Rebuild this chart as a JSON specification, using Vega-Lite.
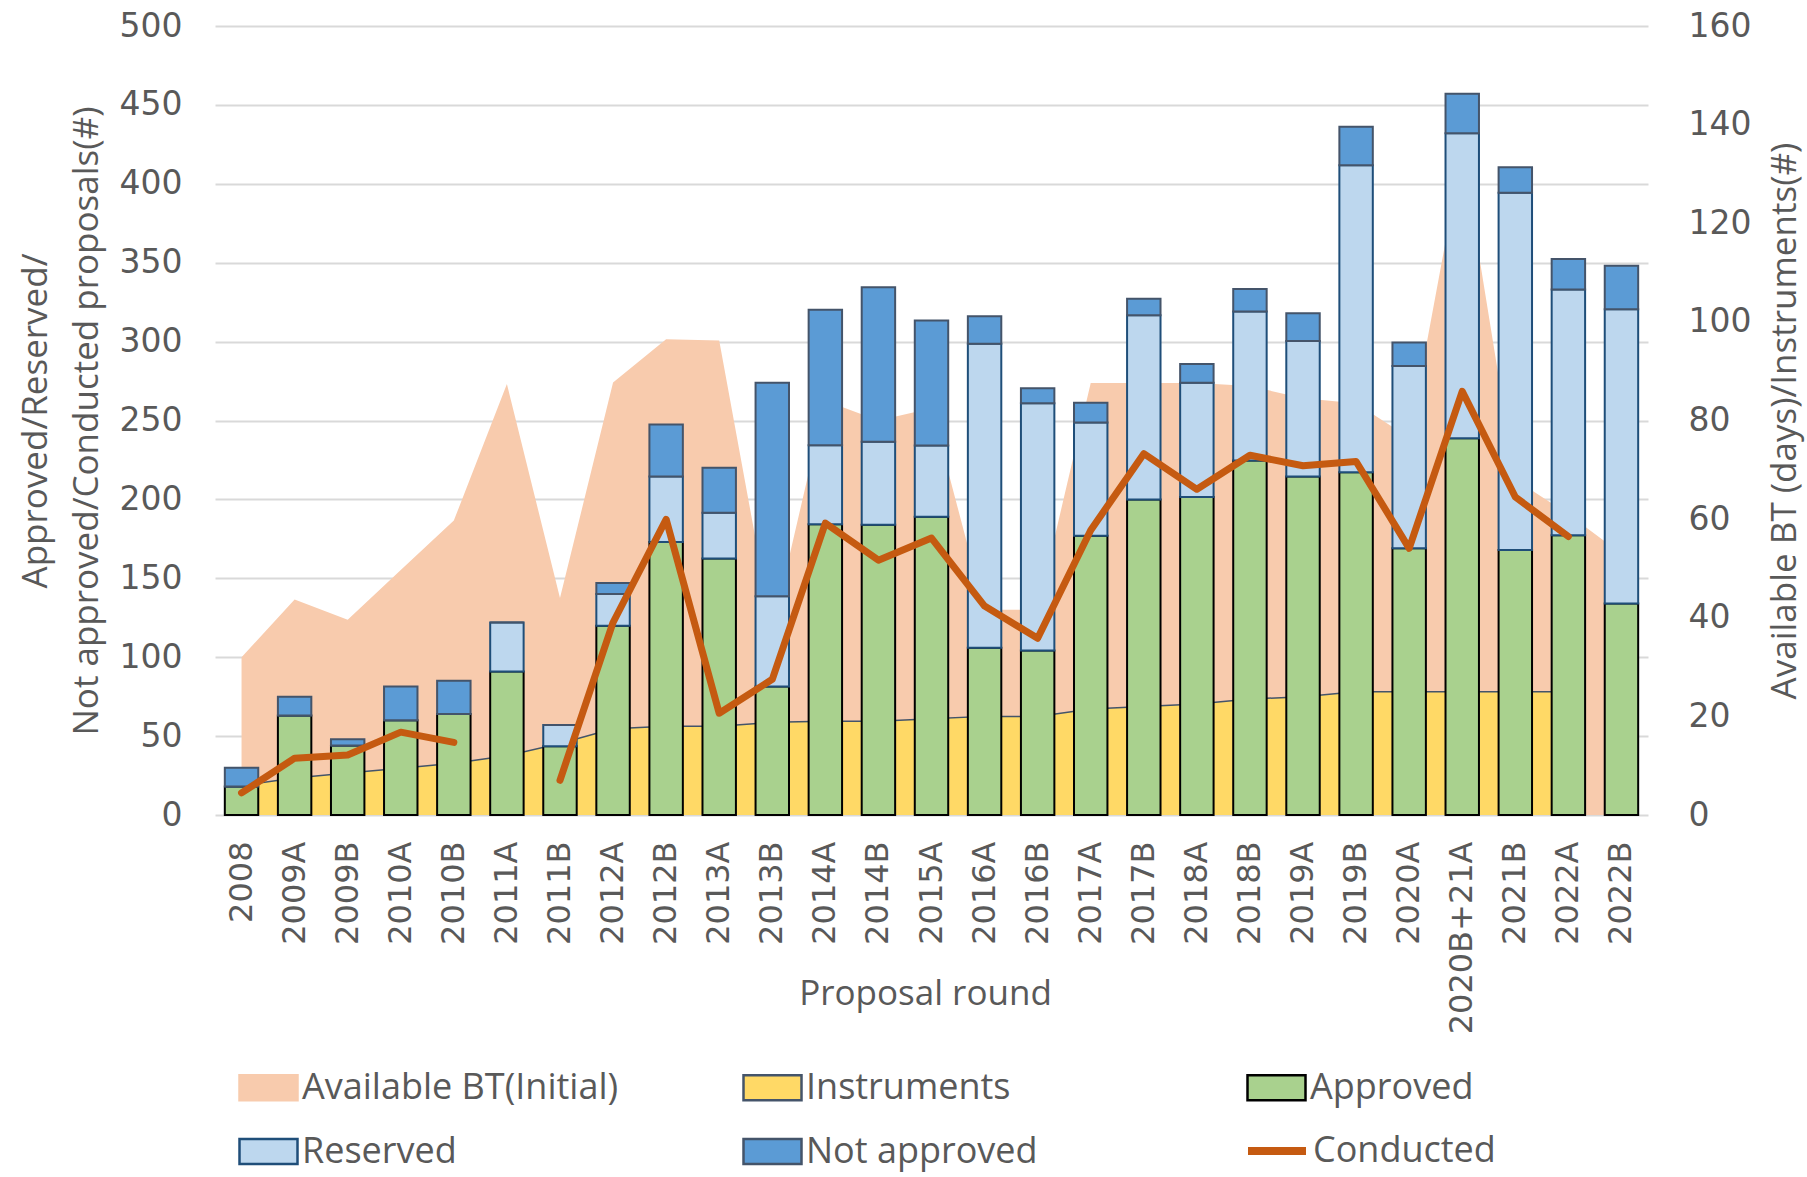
{
  "$schema": "https://vega.github.io/schema/vega-lite/v6.json",
  "width": 1433,
  "height": 789,
  "autosize": {"type": "none"},
  "padding": {"left": 215, "top": 26, "right": 159, "bottom": 362},
  "background": "white",
  "config": {"view": {"stroke": null}, "font": "Open Sans"},
  "data": {"values": [
    {"round": "2008", "approved": 18, "reservedTop": 18, "total": 30, "conducted": 14, "bt": 32, "instruments": 6},
    {"round": "2009A", "approved": 63, "reservedTop": 63, "total": 75, "conducted": 36, "bt": 43.7, "instruments": 7.5},
    {"round": "2009B", "approved": 44, "reservedTop": 44, "total": 48, "conducted": 38, "bt": 39.6, "instruments": 8.5},
    {"round": "2010A", "approved": 60, "reservedTop": 60, "total": 81.5, "conducted": 52.5, "bt": 49.7, "instruments": 9.5},
    {"round": "2010B", "approved": 64, "reservedTop": 64, "total": 85, "conducted": 46, "bt": 59.7, "instruments": 10.5},
    {"round": "2011A", "approved": 91, "reservedTop": 122, "total": 122, "conducted": null, "bt": 87.4, "instruments": 12},
    {"round": "2011B", "approved": 43.5, "reservedTop": 57, "total": 57, "conducted": 22, "bt": 44, "instruments": 14.5},
    {"round": "2012A", "approved": 120, "reservedTop": 140, "total": 147, "conducted": 122, "bt": 87.7, "instruments": 17.5},
    {"round": "2012B", "approved": 173, "reservedTop": 214.5, "total": 247.5, "conducted": 187.4, "bt": 96.5, "instruments": 18},
    {"round": "2013A", "approved": 162.5, "reservedTop": 191.5, "total": 220, "conducted": 64.5, "bt": 96.2, "instruments": 18},
    {"round": "2013B", "approved": 81.5, "reservedTop": 138.7, "total": 274, "conducted": 86, "bt": 37.5, "instruments": 18.8},
    {"round": "2014A", "approved": 184.3, "reservedTop": 234.3, "total": 320.2, "conducted": 185, "bt": 84, "instruments": 19},
    {"round": "2014B", "approved": 184, "reservedTop": 236.6, "total": 334.5, "conducted": 161.5, "bt": 80, "instruments": 19},
    {"round": "2015A", "approved": 189, "reservedTop": 234.2, "total": 313.3, "conducted": 175.5, "bt": 82.5, "instruments": 19.5},
    {"round": "2016A", "approved": 106, "reservedTop": 298.7, "total": 316, "conducted": 132.4, "bt": 41.6, "instruments": 20},
    {"round": "2016B", "approved": 104.2, "reservedTop": 261, "total": 270.4, "conducted": 112, "bt": 41.6, "instruments": 20},
    {"round": "2017A", "approved": 177, "reservedTop": 248.8, "total": 261.3, "conducted": 180.5, "bt": 87.6, "instruments": 21.5},
    {"round": "2017B", "approved": 200, "reservedTop": 316.7, "total": 327.2, "conducted": 229, "bt": 87.6, "instruments": 22},
    {"round": "2018A", "approved": 201.6, "reservedTop": 274, "total": 285.8, "conducted": 206.4, "bt": 87.6, "instruments": 22.5},
    {"round": "2018B", "approved": 224.7, "reservedTop": 319, "total": 333.3, "conducted": 228, "bt": 87, "instruments": 23.5},
    {"round": "2019A", "approved": 214.5, "reservedTop": 300.4, "total": 318, "conducted": 221.3, "bt": 84.5, "instruments": 24},
    {"round": "2019B", "approved": 217.2, "reservedTop": 411.7, "total": 436.2, "conducted": 224, "bt": 83.5, "instruments": 25},
    {"round": "2020A", "approved": 169, "reservedTop": 284.5, "total": 299.5, "conducted": 169, "bt": 76.5, "instruments": 25},
    {"round": "2020B+21A", "approved": 238.7, "reservedTop": 432, "total": 457, "conducted": 268.5, "bt": 134.5, "instruments": 25},
    {"round": "2021B", "approved": 168, "reservedTop": 394.4, "total": 410.5, "conducted": 201.5, "bt": 68, "instruments": 25},
    {"round": "2022A", "approved": 177.3, "reservedTop": 333, "total": 352.3, "conducted": 176.5, "bt": 61, "instruments": 25},
    {"round": "2022B", "approved": 134, "reservedTop": 320.5, "total": 348, "conducted": null, "bt": 53, "instruments": null}
  ]},
  "encoding": {
    "x": {
      "field": "round", "type": "ordinal",
      "scale": {"type": "band", "paddingInner": 0.37, "paddingOuter": 0.185,
        "domain": ["2008","2009A","2009B","2010A","2010B","2011A","2011B","2012A","2012B","2013A","2013B","2014A","2014B","2015A","2016A","2016B","2017A","2017B","2018A","2018B","2019A","2019B","2020A","2020B+21A","2021B","2022A","2022B"]},
      "axis": {
        "title": "Proposal round", "labelAngle": -90, "labelFont": "DejaVu Sans", "labelFontSize": 32, "labelLimit": 400,
        "labelColor": "#595959", "labelPadding": 26, "ticks": false, "domain": false,
        "titleFont": "Open Sans", "titleFontSize": 35, "titleFontWeight": "normal", "titleColor": "#595959",
        "titleY": 178, "titleX": 710, "titleBaseline": "middle", "titleAlign": "center"
      }
    }
  },
  "layer": [
    {
      "layer": [
        {
          "mark": {"type": "area", "opacity": 1},
          "encoding": {
            "y": {"field": "bt", "type": "quantitative", "scale": {"domain": [0, 160], "nice": false},
              "axis": {"orient": "right", "values": [0,20,40,60,80,100,120,140,160], "grid": false, "ticks": false, "domain": false,
                "labelFont": "DejaVu Sans", "labelFontSize": 33, "labelColor": "#595959", "labelPadding": 40,
                "title": "Available BT (days)/Instruments(#)", "titleFont": "Open Sans", "titleFontSize": 35,
                "titleFontWeight": "normal", "titleColor": "#595959", "titleAngle": -90, "titleX": 136, "titleY": 394.5,
                "titleBaseline": "middle", "titleAlign": "center"}},
            "fill": {"datum": "Available BT(Initial)", "type": "nominal",
              "scale": {"domain": ["Available BT(Initial)", "Instruments", "Approved", "Reserved", "Not approved"],
                "range": ["#F8CBAD", "#FFD966", "#A9D18E", "#BDD7EE", "#5B9BD5"]},
              "legend": {"orient": "none", "legendX": 23, "legendY": 1031, "direction": "horizontal", "columns": 3,
                "gridAlign": "all", "columnPadding": 119, "rowPadding": 15, "padding": 0, "title": null,
                "symbolSize": 3364, "symbolType": "M-1,-0.43H1V0.43H-1Z", "symbolStrokeWidth": 2.5, "symbolOpacity": 1,
                "labelFont": "Open Sans", "labelFontSize": 36, "labelColor": "#595959", "labelOffset": 3, "labelLimit": 400}}
          }
        },
        {
          "mark": {"type": "area", "opacity": 1},
          "encoding": {
            "y": {"field": "instruments", "type": "quantitative", "scale": {"domain": [0, 160], "nice": false},
              "axis": {"orient": "right", "values": [0,20,40,60,80,100,120,140,160], "grid": false, "ticks": false, "domain": false,
                "labelFont": "DejaVu Sans", "labelFontSize": 33, "labelColor": "#595959", "labelPadding": 40,
                "title": "Available BT (days)/Instruments(#)", "titleFont": "Open Sans", "titleFontSize": 35,
                "titleFontWeight": "normal", "titleColor": "#595959", "titleAngle": -90, "titleX": 136, "titleY": 394.5,
                "titleBaseline": "middle", "titleAlign": "center"}},
            "fill": {"datum": "Instruments", "type": "nominal",
              "scale": {"domain": ["Available BT(Initial)", "Instruments", "Approved", "Reserved", "Not approved"],
                "range": ["#F8CBAD", "#FFD966", "#A9D18E", "#BDD7EE", "#5B9BD5"]},
              "legend": {"orient": "none", "legendX": 23, "legendY": 1031, "direction": "horizontal", "columns": 3,
                "gridAlign": "all", "columnPadding": 119, "rowPadding": 15, "padding": 0, "title": null,
                "symbolSize": 3364, "symbolType": "M-1,-0.43H1V0.43H-1Z", "symbolStrokeWidth": 2.5, "symbolOpacity": 1,
                "labelFont": "Open Sans", "labelFontSize": 36, "labelColor": "#595959", "labelOffset": 3, "labelLimit": 400}}
          }
        },
        {
          "mark": {"type": "line", "stroke": "#44546A", "strokeWidth": 1.5},
          "encoding": {
            "y": {"field": "instruments", "type": "quantitative", "scale": {"domain": [0, 160], "nice": false},
              "axis": {"orient": "right", "values": [0,20,40,60,80,100,120,140,160], "grid": false, "ticks": false, "domain": false,
                "labelFont": "DejaVu Sans", "labelFontSize": 33, "labelColor": "#595959", "labelPadding": 40,
                "title": "Available BT (days)/Instruments(#)", "titleFont": "Open Sans", "titleFontSize": 35,
                "titleFontWeight": "normal", "titleColor": "#595959", "titleAngle": -90, "titleX": 136, "titleY": 394.5,
                "titleBaseline": "middle", "titleAlign": "center"}}
          }
        }
      ]
    },
    {
      "layer": [
        {
          "mark": {"type": "bar", "strokeWidth": 2},
          "encoding": {
            "y": {"field": "approved", "type": "quantitative", "scale": {"domain": [0, 500], "nice": false},
              "axis": {"orient": "left", "values": [0,50,100,150,200,250,300,350,400,450,500], "grid": true,
                "gridColor": "#D9D9D9", "gridWidth": 2, "ticks": false, "domain": false,
                "labelFont": "DejaVu Sans", "labelFontSize": 33, "labelColor": "#595959", "labelPadding": 33,
                "title": ["Approved/Reserved/", "Not approved/Conducted proposals(#)"], "titleFont": "Open Sans",
                "titleFontSize": 35, "titleFontWeight": "normal", "titleColor": "#595959", "titleAngle": -90,
                "titleX": -180, "titleY": 394.5, "titleBaseline": "middle", "titleAlign": "center", "titleLineHeight": 51}},
            "fill": {"datum": "Approved", "type": "nominal",
              "scale": {"domain": ["Available BT(Initial)", "Instruments", "Approved", "Reserved", "Not approved"],
                "range": ["#F8CBAD", "#FFD966", "#A9D18E", "#BDD7EE", "#5B9BD5"]},
              "legend": {"orient": "none", "legendX": 23, "legendY": 1031, "direction": "horizontal", "columns": 3,
                "gridAlign": "all", "columnPadding": 119, "rowPadding": 15, "padding": 0, "title": null,
                "symbolSize": 3364, "symbolType": "M-1,-0.43H1V0.43H-1Z", "symbolStrokeWidth": 2.5, "symbolOpacity": 1,
                "labelFont": "Open Sans", "labelFontSize": 36, "labelColor": "#595959", "labelOffset": 3, "labelLimit": 400}},
            "stroke": {"datum": "Approved", "type": "nominal",
              "scale": {"domain": ["Available BT(Initial)", "Instruments", "Approved", "Reserved", "Not approved"],
                "range": ["#F8CBAD", "#44546A", "#000000", "#1F4E79", "#44546A"]},
              "legend": {"orient": "none", "legendX": 23, "legendY": 1031, "direction": "horizontal", "columns": 3,
                "gridAlign": "all", "columnPadding": 119, "rowPadding": 15, "padding": 0, "title": null,
                "symbolSize": 3364, "symbolType": "M-1,-0.43H1V0.43H-1Z", "symbolStrokeWidth": 2.5, "symbolOpacity": 1,
                "labelFont": "Open Sans", "labelFontSize": 36, "labelColor": "#595959", "labelOffset": 3, "labelLimit": 400}}
          }
        },
        {
          "mark": {"type": "bar", "strokeWidth": 2},
          "encoding": {
            "y": {"field": "reservedTop", "type": "quantitative", "scale": {"domain": [0, 500], "nice": false},
              "axis": {"orient": "left", "values": [0,50,100,150,200,250,300,350,400,450,500], "grid": true,
                "gridColor": "#D9D9D9", "gridWidth": 2, "ticks": false, "domain": false,
                "labelFont": "DejaVu Sans", "labelFontSize": 33, "labelColor": "#595959", "labelPadding": 33,
                "title": ["Approved/Reserved/", "Not approved/Conducted proposals(#)"], "titleFont": "Open Sans",
                "titleFontSize": 35, "titleFontWeight": "normal", "titleColor": "#595959", "titleAngle": -90,
                "titleX": -180, "titleY": 394.5, "titleBaseline": "middle", "titleAlign": "center", "titleLineHeight": 51}},
            "y2": {"field": "approved"},
            "fill": {"datum": "Reserved", "type": "nominal",
              "scale": {"domain": ["Available BT(Initial)", "Instruments", "Approved", "Reserved", "Not approved"],
                "range": ["#F8CBAD", "#FFD966", "#A9D18E", "#BDD7EE", "#5B9BD5"]},
              "legend": {"orient": "none", "legendX": 23, "legendY": 1031, "direction": "horizontal", "columns": 3,
                "gridAlign": "all", "columnPadding": 119, "rowPadding": 15, "padding": 0, "title": null,
                "symbolSize": 3364, "symbolType": "M-1,-0.43H1V0.43H-1Z", "symbolStrokeWidth": 2.5, "symbolOpacity": 1,
                "labelFont": "Open Sans", "labelFontSize": 36, "labelColor": "#595959", "labelOffset": 3, "labelLimit": 400}},
            "stroke": {"datum": "Reserved", "type": "nominal",
              "scale": {"domain": ["Available BT(Initial)", "Instruments", "Approved", "Reserved", "Not approved"],
                "range": ["#F8CBAD", "#44546A", "#000000", "#1F4E79", "#44546A"]},
              "legend": {"orient": "none", "legendX": 23, "legendY": 1031, "direction": "horizontal", "columns": 3,
                "gridAlign": "all", "columnPadding": 119, "rowPadding": 15, "padding": 0, "title": null,
                "symbolSize": 3364, "symbolType": "M-1,-0.43H1V0.43H-1Z", "symbolStrokeWidth": 2.5, "symbolOpacity": 1,
                "labelFont": "Open Sans", "labelFontSize": 36, "labelColor": "#595959", "labelOffset": 3, "labelLimit": 400}}
          }
        },
        {
          "mark": {"type": "bar", "strokeWidth": 2},
          "encoding": {
            "y": {"field": "total", "type": "quantitative", "scale": {"domain": [0, 500], "nice": false},
              "axis": {"orient": "left", "values": [0,50,100,150,200,250,300,350,400,450,500], "grid": true,
                "gridColor": "#D9D9D9", "gridWidth": 2, "ticks": false, "domain": false,
                "labelFont": "DejaVu Sans", "labelFontSize": 33, "labelColor": "#595959", "labelPadding": 33,
                "title": ["Approved/Reserved/", "Not approved/Conducted proposals(#)"], "titleFont": "Open Sans",
                "titleFontSize": 35, "titleFontWeight": "normal", "titleColor": "#595959", "titleAngle": -90,
                "titleX": -180, "titleY": 394.5, "titleBaseline": "middle", "titleAlign": "center", "titleLineHeight": 51}},
            "y2": {"field": "reservedTop"},
            "fill": {"datum": "Not approved", "type": "nominal",
              "scale": {"domain": ["Available BT(Initial)", "Instruments", "Approved", "Reserved", "Not approved"],
                "range": ["#F8CBAD", "#FFD966", "#A9D18E", "#BDD7EE", "#5B9BD5"]},
              "legend": {"orient": "none", "legendX": 23, "legendY": 1031, "direction": "horizontal", "columns": 3,
                "gridAlign": "all", "columnPadding": 119, "rowPadding": 15, "padding": 0, "title": null,
                "symbolSize": 3364, "symbolType": "M-1,-0.43H1V0.43H-1Z", "symbolStrokeWidth": 2.5, "symbolOpacity": 1,
                "labelFont": "Open Sans", "labelFontSize": 36, "labelColor": "#595959", "labelOffset": 3, "labelLimit": 400}},
            "stroke": {"datum": "Not approved", "type": "nominal",
              "scale": {"domain": ["Available BT(Initial)", "Instruments", "Approved", "Reserved", "Not approved"],
                "range": ["#F8CBAD", "#44546A", "#000000", "#1F4E79", "#44546A"]},
              "legend": {"orient": "none", "legendX": 23, "legendY": 1031, "direction": "horizontal", "columns": 3,
                "gridAlign": "all", "columnPadding": 119, "rowPadding": 15, "padding": 0, "title": null,
                "symbolSize": 3364, "symbolType": "M-1,-0.43H1V0.43H-1Z", "symbolStrokeWidth": 2.5, "symbolOpacity": 1,
                "labelFont": "Open Sans", "labelFontSize": 36, "labelColor": "#595959", "labelOffset": 3, "labelLimit": 400}}
          }
        },
        {
          "mark": {"type": "line", "strokeWidth": 7, "strokeCap": "round", "strokeJoin": "round", "invalid": "break-paths-filter-domains"},
          "encoding": {
            "y": {"field": "conducted", "type": "quantitative", "scale": {"domain": [0, 500], "nice": false},
              "axis": {"orient": "left", "values": [0,50,100,150,200,250,300,350,400,450,500], "grid": true,
                "gridColor": "#D9D9D9", "gridWidth": 2, "ticks": false, "domain": false,
                "labelFont": "DejaVu Sans", "labelFontSize": 33, "labelColor": "#595959", "labelPadding": 33,
                "title": ["Approved/Reserved/", "Not approved/Conducted proposals(#)"], "titleFont": "Open Sans",
                "titleFontSize": 35, "titleFontWeight": "normal", "titleColor": "#595959", "titleAngle": -90,
                "titleX": -180, "titleY": 394.5, "titleBaseline": "middle", "titleAlign": "center", "titleLineHeight": 51}},
            "color": {"datum": "Conducted", "type": "nominal",
              "scale": {"domain": ["Conducted"], "range": ["#C55A11"]},
              "legend": {"orient": "none", "legendX": 1029, "legendY": 1092, "padding": 0, "title": null,
                "symbolSize": 3364, "symbolType": "stroke", "symbolStrokeWidth": 8,
                "labelFont": "Open Sans", "labelFontSize": 36, "labelColor": "#595959", "labelOffset": 3, "labelLimit": 400}}
          }
        }
      ]
    }
  ],
  "resolve": {"scale": {"y": "independent"}}
}
